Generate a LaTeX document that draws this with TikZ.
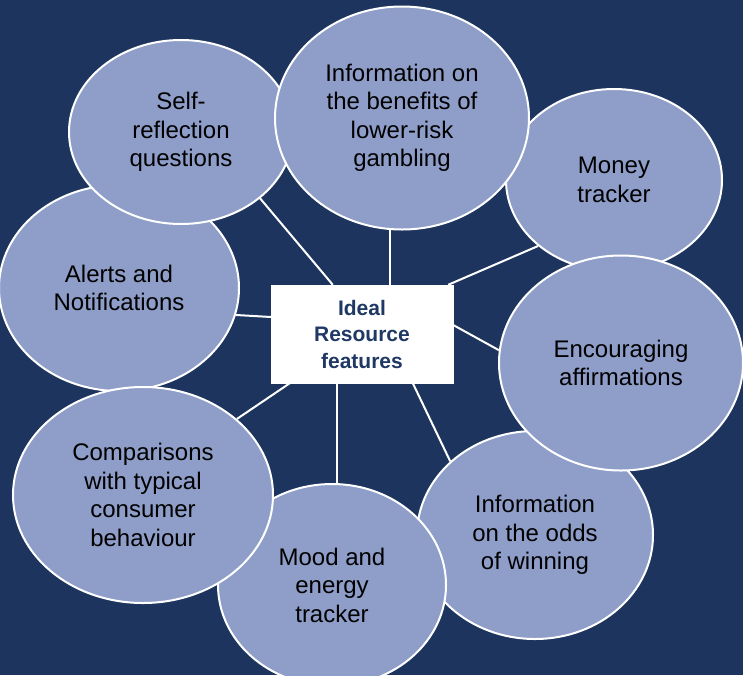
\documentclass[tikz,border=0pt]{standalone}
\usepackage{fontspec}
\setmainfont{Liberation Sans}
\usetikzlibrary{shapes.geometric,calc}
\definecolor{navybg}{RGB}{29,53,94}
\definecolor{bubblefill}{RGB}{142,158,201}
\definecolor{hubtext}{RGB}{31,56,100}
\pgfdeclarelayer{bg}
\pgfdeclarelayer{links}
\pgfsetlayers{bg,links,main}

\begin{document}
\begin{tikzpicture}[x=1pt,y=-1pt,
  bubble/.style={ellipse, draw=white, line width=2pt, fill=bubblefill,
    text=black, inner sep=0pt, align=center,
    font=\fontsize{24}{28.5}\selectfont},
  hub/.style={rectangle, fill=white, draw=white, minimum width=182pt,
    minimum height=98pt, inner sep=0pt, align=center, text=hubtext,
    font=\bfseries\fontsize{21}{26.5}\selectfont},
  link/.style={draw=white, line width=2pt}]

\useasboundingbox (0,0) rectangle (743,675);
\begin{pgfonlayer}{bg}
  \fill[navybg] (0,0) rectangle (743,675);
\end{pgfonlayer}

% surrounding feature bubbles, back to front
\node[bubble, minimum width=240pt, minimum height=206pt] (alerts) at (119,288) {Alerts and\\Notifications};
\node[bubble, minimum width=224pt, minimum height=184pt] (self) at (181,132) {Self-\\reflection\\questions};
\node[bubble, minimum width=216pt, minimum height=182pt] (money) at (614,180) {Money\\tracker};
\node[bubble, minimum width=254pt, minimum height=223pt] (info) at (402,118) {Information on\\the benefits of\\lower-risk\\gambling};
\node[bubble, minimum width=236pt, minimum height=208pt] (odds) at (535,535) {Information\\on the odds\\of winning};
\node[bubble, minimum width=244pt, minimum height=215pt] (enc) at (621,363) {Encouraging\\affirmations};
\node[bubble, minimum width=228pt, minimum height=202pt] (mood) at (332,585) {Mood and\\energy\\tracker};
\node[bubble, minimum width=260pt, minimum height=216pt] (comp) at (143,495) {Comparisons\\with typical\\consumer\\behaviour};

% central hub
\node[hub] (hub) at (362,334) {Ideal\\Resource\\features};

% spokes from the hub, kept behind the shapes
\begin{pgfonlayer}{links}
  \draw[link] ($(hub.north west)+(62,0)$) -- (self.-40);
  \draw[link] (info.-96) -- (info.-96 |- hub.north);
  \draw[link] ($(hub.north east)+(-5,0)$) -- (money.221);
  \draw[link] ($(hub.east)+(0,-9)$) -- (enc.174);
  \draw[link] ($(hub.south west)+(142,0)$) -- (odds.139);
  \draw[link] (mood.87) -- (mood.87 |- hub.south);
  \draw[link] ($(hub.south west)+(19,0)$) -- (comp.39);
  \draw[link] ($(hub.west)+(0,-17)$) -- (alerts.-13);
\end{pgfonlayer}
\end{tikzpicture}
\end{document}
